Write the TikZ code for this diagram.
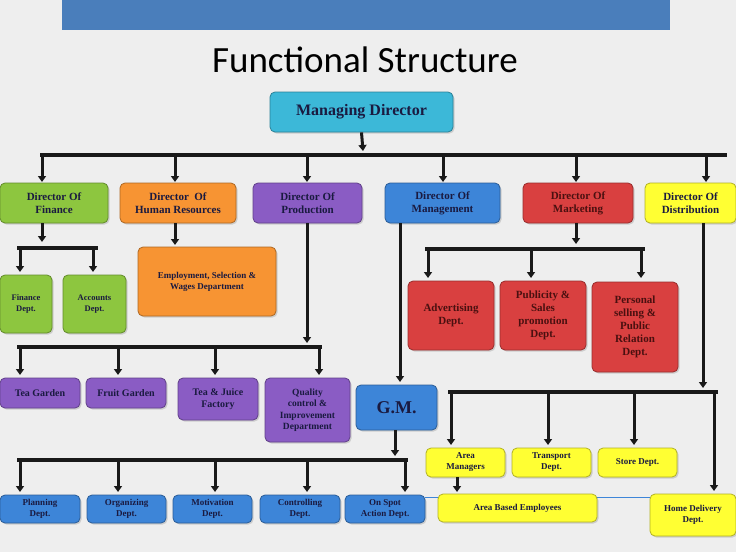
\documentclass[tikz,border=0pt]{standalone}
\usepackage{fontspec}
\setmainfont{Liberation Serif}
\newfontfamily\titlefont{Carlito}
\usetikzlibrary{arrows.meta,shadows}
\definecolor{bg}{HTML}{EEEEEE}
\definecolor{topbar}{HTML}{4A7EBB}
\definecolor{cteal}{HTML}{3CB8D8}
\definecolor{cgreen}{HTML}{8DC63F}
\definecolor{corange}{HTML}{F79433}
\definecolor{cpurple}{HTML}{8A5CC4}
\definecolor{cblue}{HTML}{3D85D8}
\definecolor{cred}{HTML}{D94040}
\definecolor{cyel}{HTML}{FFFF33}
\definecolor{ctext}{HTML}{1A1A40}
\definecolor{ctextr}{HTML}{4A1010}
\tikzset{
 box/.style={rounded corners=5pt,draw=#1!70!black,line width=0.8pt,fill=#1,align=center,text=ctext,inner sep=1pt,drop shadow={opacity=0.3,shadow xshift=1.5pt,shadow yshift=-1.5pt}},
 bar/.style={line width=4.5pt,black!90},
 arr/.style={line width=3pt,black!90,-{Triangle[length=6pt,width=8pt]}},
}
\newcommand{\bx}[8]{\node[box=#6,minimum width=#4-#2,minimum height=#5-#3,font=\bfseries\fontsize{#8pt}{\dimexpr #8pt+2pt\relax}\selectfont] (#1) at ({(#2+#4)/2},{(#3+#5)/2}) {#7};}
\begin{document}
\begin{tikzpicture}[x=1pt,y=-1pt]
\fill[bg] (0,0) rectangle (736,552);
\useasboundingbox (0,0) rectangle (736,552);
\fill[topbar] (62,0) rectangle (670,30);
\node[font=\titlefont\fontsize{37pt}{39pt}\selectfont] (title) at (365,60) {Functional Structure};
\bx{md}{270}{92}{453}{132}{cteal}{Managing Director}{16}
% directors
\bx{fin}{0}{183}{108}{223}{cgreen}{Director Of\\Finance}{11}
\bx{hr}{120}{183}{236}{223}{corange}{Director~ Of\\Human Resources}{11}
\bx{prod}{253}{183}{362}{223}{cpurple}{Director Of\\Production}{11}
\bx{mgmt}{385}{183}{500}{223}{cblue}{Director Of\\Management}{11}
\bx{mkt}{523}{183}{633}{223}{cred}{\color{ctextr}Director Of\\\color{ctextr}Marketing}{11}
\bx{dist}{645}{183}{736}{223}{cyel}{Director Of\\Distribution}{11}
\draw[arr] (md.south) -- (363,151);
\draw[bar] (40,155) -- (727,155);
\foreach \x in {42,175,307,443,576,706}
  \draw[arr] (\x,155) -- (\x,182);
% finance
\bx{fdept}{0}{275}{52}{333}{cgreen}{Finance\\Dept.}{8.5}
\bx{adept}{63}{275}{126}{333}{cgreen}{Accounts\\Dept.}{8.5}
\draw[arr] (42,223) -- (42,242);
\draw[bar] (17,248) -- (98,248);
\draw[arr] (20,248) -- (20,272);
\draw[arr] (93,248) -- (93,272);
% HR
\bx{emp}{138}{247}{276}{316}{corange}{Employment, Selection \&\\Wages Department}{9}
\draw[arr] (175,223) -- (175,245);
% production
\bx{tea}{0}{378}{80}{408}{cpurple}{Tea Garden}{10}
\bx{fruit}{86}{378}{166}{408}{cpurple}{Fruit Garden}{10}
\bx{juice}{178}{378}{258}{420}{cpurple}{Tea \& Juice\\Factory}{10}
\bx{qual}{265}{378}{350}{442}{cpurple}{Quality\\control \&\\Improvement\\Department}{9.5}
\draw[arr] (307,223) -- (307,343);
\draw[bar] (17,347) -- (322,347);
\foreach \x in {20,118,215,319} \draw[arr] (\x,347) -- (\x,375);
% management
\bx{gm}{356}{385}{437}{430}{cblue}{G.M.}{18}
\draw[arr] (400,223) -- (400,382);
\draw[arr] (395,430) -- (395,456);
\draw[bar] (17,460) -- (408,460);
\bx{plan}{0}{495}{80}{523}{cblue}{Planning\\Dept.}{9}
\bx{org}{87}{495}{166}{523}{cblue}{Organizing\\Dept.}{9}
\bx{mot}{173}{495}{252}{523}{cblue}{Motivation\\Dept.}{9}
\bx{ctrl}{260}{495}{340}{523}{cblue}{Controlling\\Dept.}{9}
\bx{onspot}{345}{495}{425}{523}{cblue}{On Spot\\Action Dept.}{9}
\foreach \x in {20,118,215,307,405} \draw[arr] (\x,460) -- (\x,492);
% marketing
\draw[arr] (576,223) -- (576,244);
\draw[bar] (425,249) -- (645,249);
\bx{adv}{408}{281}{494}{350}{cred}{\color{ctextr}Advertising\\\color{ctextr}Dept.}{11}
\bx{pub}{500}{281}{586}{350}{cred}{\color{ctextr}Publicity \&\\\color{ctextr}Sales\\\color{ctextr}promotion\\\color{ctextr}Dept.}{11}
\bx{pers}{592}{282}{678}{372}{cred}{\color{ctextr}Personal\\\color{ctextr}selling \&\\\color{ctextr}Public\\\color{ctextr}Relation\\\color{ctextr}Dept.}{11}
\foreach \x in {428,531,641} \draw[arr] (\x,249) -- (\x,278);
% distribution
\draw[arr] (703,223) -- (703,388);
\draw[bar] (448,392) -- (718,392);
\draw[cblue,line width=1pt] (425,497) -- (650,497);
\bx{area}{426}{448}{505}{477}{cyel}{Area\\Managers}{9}
\bx{trans}{512}{448}{591}{477}{cyel}{Transport\\Dept.}{9}
\bx{store}{598}{448}{677}{477}{cyel}{Store Dept.}{9}
\bx{abe}{438}{494}{597}{522}{cyel}{Area Based Employees}{9}
\bx{home}{650}{494}{736}{536}{cyel}{Home Delivery\\Dept.}{9}
\foreach \x/\y in {451/445,548/445,634/445,714/491} \draw[arr] (\x,392) -- (\x,\y);
\draw[arr] (457,477) -- (457,492);
\end{tikzpicture}
\end{document}
